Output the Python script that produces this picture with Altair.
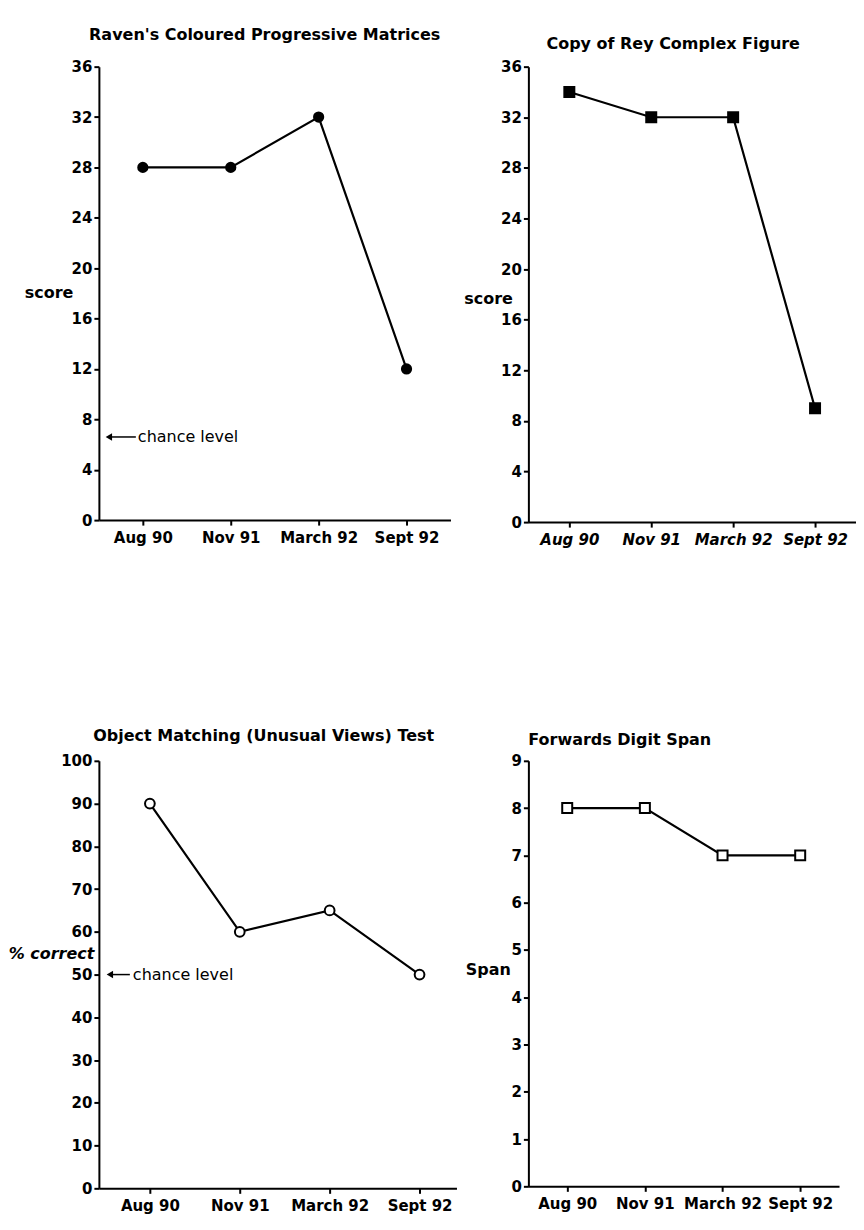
import altair as alt
import pandas as pd

# ---- data ----
sessions = ["Aug 90", "Nov 91", "March 92", "Sept 92"]
raven_scores = [28, 28, 32, 12]          # Raven's Coloured Progressive Matrices
rey_copy_scores = [34, 32, 32, 9]        # Copy of Rey Complex Figure
object_matching_pct = [90, 60, 65, 50]   # Object Matching (Unusual Views) Test
digit_span = [8, 8, 7, 7]                # Forwards Digit Span

raven_chance = [6.6]
object_chance = [50]
chance_label = ["chance level"]

FONT = "DejaVu Sans"


def panel(title, values, ymax, ystep, width, height, shape, filled, size,
          ytitle, ytitle_v, ytitle_x, title_dx, title_offset,
          chance=None, arrow=None, ytitle_style="normal", xlabel_style="normal",
          xpad=0.5, xalign=0.5):
    df = pd.DataFrame({"session": sessions, "value": values})
    x = alt.X("session:N", sort=sessions,
              scale=alt.Scale(type="point", padding=xpad, align=xalign),
              axis=alt.Axis(title=None, labelAngle=0, labelPadding=5,
                            labelFontStyle=xlabel_style))
    y = alt.Y("value:Q",
              scale=alt.Scale(domain=[0, ymax], nice=False, zero=True),
              axis=alt.Axis(values=list(range(0, ymax + 1, ystep)), title=ytitle,
                            titleAngle=0, titleAlign="right", titleBaseline="middle",
                            titleX=ytitle_x, titleY=(1 - ytitle_v / ymax) * height,
                            titleFontStyle=ytitle_style, labelPadding=2))
    base = alt.Chart(df)
    line = base.mark_line(color="black", strokeWidth=2.2).encode(x=x, y=y)
    pts = base.mark_point(shape=shape, filled=True,
                          fill="black" if filled else "white",
                          stroke="black", strokeWidth=2, size=size,
                          opacity=1).encode(x=x, y=y)
    layers = [line, pts]
    if chance is not None:
        cdf = pd.DataFrame({"value": chance, "label": chance_label})
        cb = alt.Chart(cdf)
        tip, shaft_end, text_x = arrow
        yc = alt.Y("value:Q")
        layers.append(cb.mark_rule(color="black", strokeWidth=1.5).encode(
            x=alt.value(tip + 4), x2=alt.value(shaft_end), y=yc))
        layers.append(cb.mark_point(shape="triangle-left", filled=True, color="black",
                                    size=55, opacity=1).encode(
            x=alt.value(tip + 4), y=yc))
        layers.append(cb.mark_text(align="left", baseline="middle", font=FONT,
                                   fontSize=16, color="black").encode(
            x=alt.value(text_x), y=yc, text="label:N"))
    return alt.layer(*layers).properties(
        width=width, height=height,
        title=alt.TitleParams(text=title, font=FONT, fontSize=16, fontWeight="bold",
                              anchor="middle", frame="group", dx=title_dx,
                              offset=title_offset, baseline="alphabetic",
                              color="black"))


p1 = panel("Raven's Coloured Progressive Matrices", raven_scores, 36, 4, 352, 454,
           "circle", True, 85, "score", 18.1, -26, -10, 4,
           chance=raven_chance, arrow=(6, 37, 39))
p2 = panel("Copy of Rey Complex Figure", rey_copy_scores, 36, 4, 328, 456,
           "square", True, 100, "score", 17.7, -16, -19, -5,
           xlabel_style="italic")
p3 = panel("Object Matching (Unusual Views) Test", object_matching_pct, 100, 10, 358, 428,
           "circle", False, 95, "% correct", 55, -5, -14, -3,
           chance=object_chance, arrow=(7, 31, 34), ytitle_style="italic",
           xpad=0.489, xalign=0.58)
p4 = panel("Forwards Digit Span", digit_span, 9, 1, 311, 426,
           "square", False, 100, "Span", 4.58, -18, -64, -7)

chart = alt.concat(
    p1, p2, p3, p4, columns=2,
    spacing={"row": 239, "column": 72},
    bounds="flush", align="all",
    padding={"top": 18, "left": 0, "right": 0, "bottom": 0},
).configure_view(stroke=None).configure_axis(
    domainColor="black", domainWidth=2, tickColor="black", tickWidth=2, tickSize=5,
    labelFont=FONT, labelFontSize=15, labelFontWeight="bold", labelColor="black",
    titleFont=FONT, titleFontSize=16, titleFontWeight="bold", titleColor="black",
    grid=False,
).properties(background="white")

chart.save("out.html", embed_options={"renderer": "svg", "actions": False})
